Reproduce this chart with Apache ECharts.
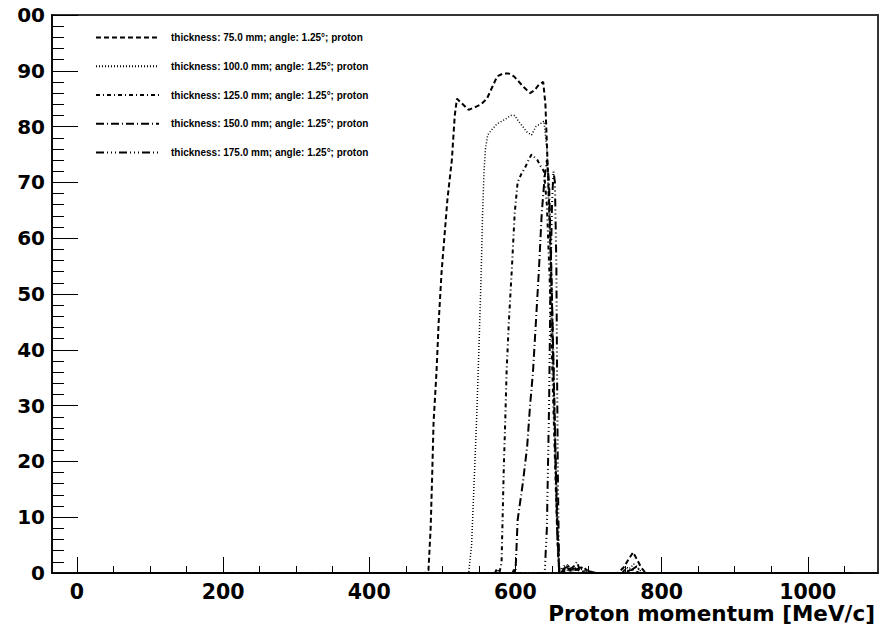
<!DOCTYPE html>
<html>
<head>
<meta charset="utf-8">
<script src="https://cdn.jsdelivr.net/npm/echarts@6/dist/echarts.min.js"></script>
<style>
html,body{margin:0;padding:0;background:#fff;}
#clip{position:absolute;left:16px;top:0;width:880px;height:636px;overflow:hidden;}
#chart{position:absolute;left:-16px;top:0;width:896px;height:636px;}
</style>
</head>
<body>
<div id="clip"><div id="chart"></div></div>
<script>
// ---- data ----
const seriesNames = [
  'thickness: 75.0 mm; angle: 1.25°; proton',
  'thickness: 100.0 mm; angle: 1.25°; proton',
  'thickness: 125.0 mm; angle: 1.25°; proton',
  'thickness: 150.0 mm; angle: 1.25°; proton',
  'thickness: 175.0 mm; angle: 1.25°; proton'
];
const xMajorTicks = [0, 200, 400, 600, 800, 1000];
const xMinorTicks = [50, 100, 150, 250, 300, 350, 450, 500, 550, 650, 700, 750, 850, 900, 950, 1050];

const thick75 = [[0,0],[476,0],[481,0.5],[484,8],[486,17],[488,27],[492,36],[495,45],[499,54],[507,67],[513,74],[517,82],[520,85],[528,84],[536,83],[545,83.5],[553,84],[561,85],[568,87],[575,89],[583,89.5],[591,89.5],[598,89],[605,88],[612,87],[620,86],[626,86.5],[632,87.5],[638,88],[641,84],[645,70],[649,54],[653,31],[657,8],[660,0],[664,0.3],[670,1.0],[676,0.4],[684,0.6],[692,0.2],[700,0],[740,0],[748,1],[755,2.5],[761,3.7],[766,2.5],[772,1],[778,0],[1060,0]];
const thick100 = [[0,0],[536,0],[540,5],[544,18],[547,28],[550,40],[553,53],[555,64],[557,72],[559,76],[562,78.5],[568,79.5],[575,80.5],[582,81],[588,81.5],[594,82],[599,82],[604,81],[610,80],[616,79],[622,78.5],[628,80],[634,80.5],[639,81],[643,76],[647,60],[651,40],[655,20],[658,6],[660,0],[668,0.6],[676,0.3],[688,0.8],[698,0.2],[706,0],[750,0],[756,0.8],[762,1.6],[768,0.8],[774,0],[1060,0]];
const thick125 = [[0,0],[572,0],[575,0.8],[578,0],[581,1.8],[584,18.5],[586,27],[588,36.4],[591,45],[595,54.3],[599,64.5],[603,70],[608,71.5],[613,72.6],[618,74],[622,75],[626,74.5],[630,74],[634,73],[639,72],[643,66],[647,52],[651,34],[655,16],[658,4],[660,0],[672,0.4],[680,1.2],[684,2],[688,0.6],[694,0.9],[700,0.3],[708,0],[752,0],[758,0.7],[764,0.3],[770,0],[1060,0]];
const thick150 = [[0,0],[596,0],[598,0.6],[600,0],[601,3],[603,9.5],[610,16],[616,22.6],[620,30],[624,36],[628,45],[632,54],[636,64.5],[640,71],[643,74],[646,70],[649,55],[652,38],[655,20],[658,6],[660,0],[666,0.8],[674,1.3],[682,0.6],[690,1],[698,0.4],[710,0],[746,0],[752,1],[758,0.5],[766,1.2],[772,0],[1060,0]];
const thick175 = [[0,0],[640,0],[643,8],[646,30],[648,52],[650,66],[652,72],[654,70],[656,55],[657,35],[658,18],[659,8],[660,0],[664,1],[670,1.6],[676,0.6],[684,0.9],[692,0.3],[700,0],[1060,0]];

const seriesData = [thick75, thick100, thick125, thick150, thick175];
const dashPatterns = [[5,3],[1,2],[4,3,1,3],[8,3,1,3],[8,3,1,3,1,3,1,3]];
const lineWidths = [2, 1.5, 2, 2, 2];

const chart = echarts.init(document.getElementById('chart'), null, {renderer:'svg'});
const axisFont = {fontFamily:'DejaVu Sans', fontWeight:'bold', color:'#000'};

const option = {
  animation: false,
  backgroundColor: '#fff',
  title: {
    text: 'Proton momentum [MeV/c]',
    right: 21, top: 605, padding: 0,
    textStyle: {fontFamily:'DejaVu Sans', fontWeight:'bold', fontSize:21.5, lineHeight:17, color:'#000'}
  },
  legend: {
    orient: 'vertical', left: 90, top: 27,
    itemWidth: 63, itemHeight: 14, itemGap: 17.5,
    data: seriesNames,
    itemStyle: {color:'rgba(0,0,0,0)', borderColor:'rgba(0,0,0,0)', borderWidth:0},
    textStyle: {fontFamily:'Liberation Sans', fontWeight:'bold', fontSize:10, color:'#000', padding:[0,0,0,7]}
  },
  grid: {left:52, right:18, top:15, bottom:63, show:true, borderColor:'#333', borderWidth:2},
  xAxis: [{
    type:'value', min:-34, max:1096,
    axisLine:{onZero:false, lineStyle:{color:'#000', width:1.5}},
    axisTick:{inside:true, length:16, customValues:xMajorTicks, lineStyle:{color:'#000', width:1}},
    axisLabel:Object.assign({customValues:xMajorTicks, margin:11, fontSize:20.5, lineHeight:15,
      formatter: v => String(v)}, axisFont),
    splitLine:{show:false}
  },{
    type:'value', min:-34, max:1096, position:'bottom',
    axisLine:{show:false},
    axisTick:{inside:true, length:7, customValues:xMinorTicks, lineStyle:{color:'#000', width:1}},
    axisLabel:{show:false},
    splitLine:{show:false}
  }],
  yAxis: {
    type:'value', min:0, max:100, interval:10,
    axisLine:{show:true, onZero:false, lineStyle:{color:'#000', width:1.5}},
    axisTick:{inside:true, length:26, lineStyle:{color:'#000', width:1}},
    minorTick:{show:true, splitNumber:5, length:12, lineStyle:{color:'#000', width:1}},
    axisLabel:Object.assign({margin:7, fontSize:20}, axisFont),
    splitLine:{show:false}
  },
  series: seriesData.map((d, i) => ({
    name: seriesNames[i],
    type: 'line',
    xAxisIndex: 0,
    data: d,
    symbol: 'none',
    color: '#000',
    lineStyle: {color:'#000', width: lineWidths[i], type: dashPatterns[i]}
  }))
};
chart.setOption(option);
</script>
</body>
</html>
